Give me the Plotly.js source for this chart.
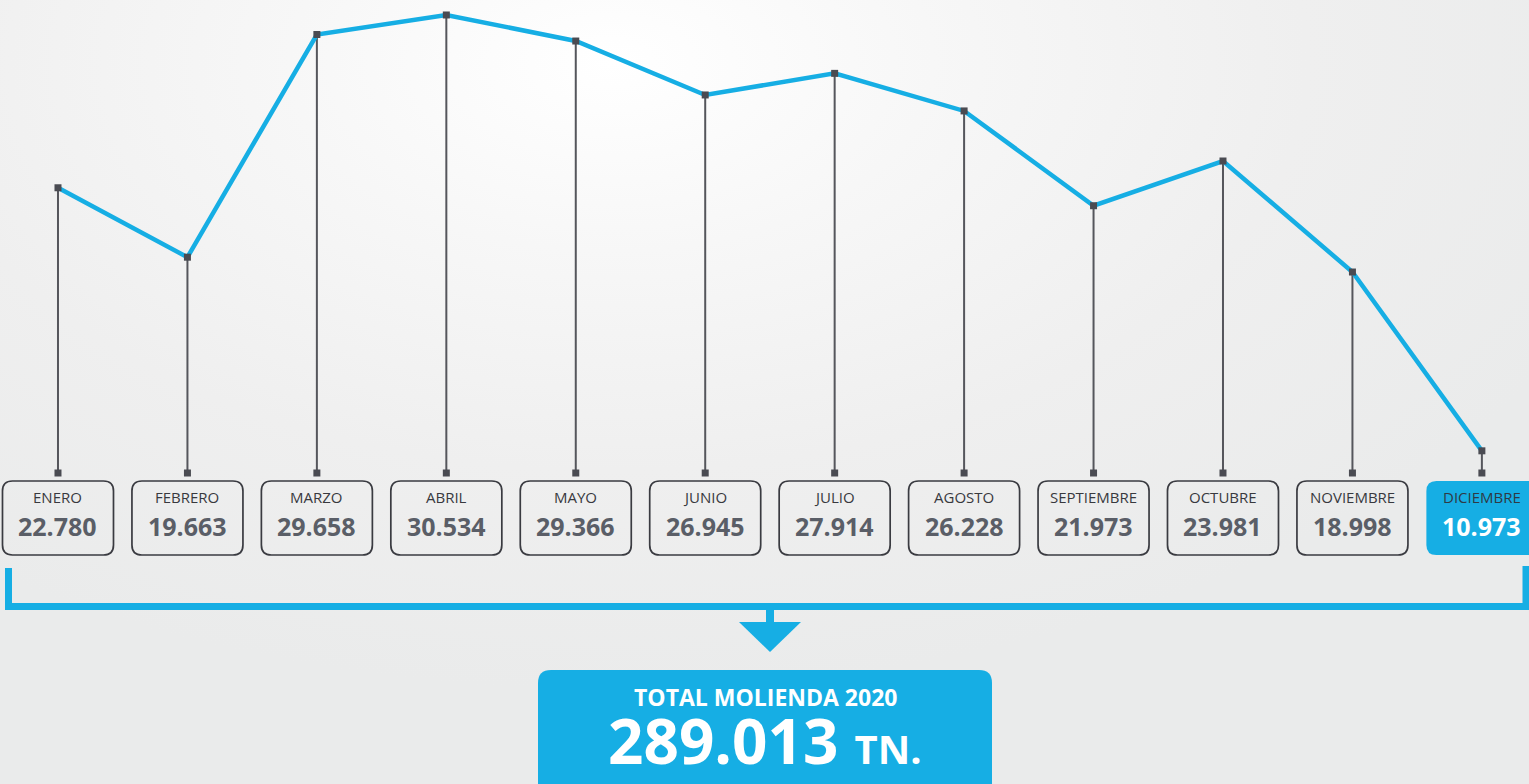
<!DOCTYPE html>
<html>
<head>
<meta charset="utf-8">
<script src="https://cdn.plot.ly/plotly-3.0.1.min.js"></script>
<style>
  html, body { margin:0; padding:0; width:1529px; height:784px; overflow:hidden; }
  body { background: radial-gradient(ellipse 70% 80% at 40% 8%, #ffffff 0%, #f7f7f7 30%, #efefef 65%, #eaebeb 100%); }
  #chart { width:1529px; height:784px; }
</style>
</head>
<body>
<div id="chart"></div>
<script>
// ---- data ----
const months = ['ENERO','FEBRERO','MARZO','ABRIL','MAYO','JUNIO','JULIO','AGOSTO','SEPTIEMBRE','OCTUBRE','NOVIEMBRE','DICIEMBRE'];
const values = [22780, 19663, 29658, 30534, 29366, 26945, 27914, 26228, 21973, 23981, 18998, 10973];
const totalLabel = 'TOTAL MOLIENDA 2020';
const unitLabel = 'TN.';
const highlightIndex = 11;

// ---- helpers ----
const W = 1529, H = 784;
const BLUE = '#16aee4';
const DARK = '#4a4b52';
function fmt(n){ return String(n).replace(/\B(?=(\d{3})+(?!\d))/g, '.'); }
const xs = months.map((_, i) => i);
const total = values.reduce((a, b) => a + b, 0);

// pixel -> paper
const px = p => p / W;
const py = p => 1 - p / H;

const yRange = [-3981, 31207];
const xRange = [-0.448, 11.364];
const xPerPx = (xRange[1] - xRange[0]) / W;
const yPerPx = (yRange[1] - yRange[0]) / H;
const baseVal = yRange[1] - 473 * yPerPx;   // stem bottom level

// stems
const stemX = [], stemY = [];
xs.forEach((x, i) => { stemX.push(x, x, null); stemY.push(values[i], baseVal, null); });

const traces = [
  { x: stemX, y: stemY, mode: 'lines', line: { color: '#55565c', width: 2 }, hoverinfo: 'skip' },
  { x: xs, y: xs.map(() => baseVal), mode: 'markers', marker: { symbol: 'square', size: 7, color: DARK }, hoverinfo: 'skip' },
  { x: xs, y: values, mode: 'lines+markers', line: { color: BLUE, width: 4.5 },
    marker: { symbol: 'square', size: 7, color: DARK } }
];

// rounded rect in x-data / paper-y
function rrect(xc, halfW, top, bottom, r) {
  const x0 = xc - halfW, x1 = xc + halfW;
  const rx = r * xPerPx, ry = r / H;
  const yT = py(top), yB = py(bottom);
  return `M ${x0 + rx},${yT} L ${x1 - rx},${yT} Q ${x1},${yT} ${x1},${yT - ry} L ${x1},${yB + ry} Q ${x1},${yB} ${x1 - rx},${yB} L ${x0 + rx},${yB} Q ${x0},${yB} ${x0},${yB + ry} L ${x0},${yT - ry} Q ${x0},${yT} ${x0 + rx},${yT} Z`;
}
function rrectPx(x0p, x1p, top, bottom, r) {
  const x0 = px(x0p), x1 = px(x1p), rx = r / W, ry = r / H;
  const yT = py(top), yB = py(bottom);
  return `M ${x0 + rx},${yT} L ${x1 - rx},${yT} Q ${x1},${yT} ${x1},${yT - ry} L ${x1},${yB + ry} Q ${x1},${yB} ${x1 - rx},${yB} L ${x0 + rx},${yB} Q ${x0},${yB} ${x0},${yB + ry} L ${x0},${yT - ry} Q ${x0},${yT} ${x0 + rx},${yT} Z`;
}

const shapes = [];
const annotations = [];
const halfW = 55.5 * xPerPx;
xs.forEach((x, i) => {
  const hl = i === highlightIndex;
  shapes.push({
    type: 'path', xref: 'x', yref: 'paper', layer: 'below',
    path: rrect(x, halfW, 481, 555, 10),
    fillcolor: hl ? BLUE : 'rgba(0,0,0,0)',
    line: { color: hl ? BLUE : '#3a3b41', width: hl ? 0 : 1.7 }
  });
  annotations.push({
    x: x, y: py(497), xref: 'x', yref: 'paper', text: months[i], showarrow: false,
    xanchor: 'center', yanchor: 'middle',
    font: { family: 'Open Sans, sans-serif', size: 15, color: hl ? '#2f3a45' : '#38393e' }
  });
  annotations.push({
    x: x, y: py(526), xref: 'x', yref: 'paper', text: '<b>' + fmt(values[i]) + '</b>', showarrow: false,
    xanchor: 'center', yanchor: 'middle',
    font: { family: 'Open Sans, sans-serif', size: 25, color: hl ? '#ffffff' : '#5a5e67' }
  });
});

// bracket
shapes.push({
  type: 'path', xref: 'paper', yref: 'paper',
  path: `M ${px(8.5)},${py(568)} L ${px(8.5)},${py(606.5)} L ${px(1526)},${py(606.5)} L ${px(1526)},${py(566)}`,
  line: { color: BLUE, width: 7 }, fillcolor: 'rgba(0,0,0,0)'
});
// arrow stem
shapes.push({
  type: 'line', xref: 'paper', yref: 'paper',
  x0: px(770), x1: px(770), y0: py(606), y1: py(626),
  line: { color: BLUE, width: 8 }
});
// arrow head
shapes.push({
  type: 'path', xref: 'paper', yref: 'paper',
  path: `M ${px(739)},${py(622)} L ${px(801)},${py(622)} L ${px(770)},${py(652)} Z`,
  fillcolor: BLUE, line: { width: 0 }
});
// total box
shapes.push({
  type: 'path', xref: 'paper', yref: 'paper',
  path: rrectPx(538, 992, 670, 800, 13),
  fillcolor: BLUE, line: { width: 0 }
});
annotations.push({
  x: px(765), y: py(697), xref: 'paper', yref: 'paper', showarrow: false,
  text: '<b>' + totalLabel + '</b>', xanchor: 'center', yanchor: 'middle',
  font: { family: 'Open Sans, sans-serif', size: 23, color: '#ffffff' }
});
annotations.push({
  x: px(765), y: py(784), xref: 'paper', yref: 'paper', showarrow: false,
  text: '<b>' + fmt(total) + '</b> <b><span style="font-size:40px">' + unitLabel + '</span></b>',
  xanchor: 'center', yanchor: 'bottom',
  font: { family: 'Open Sans, sans-serif', size: 62, color: '#ffffff' }
});

const layout = {
  width: W, height: H,
  margin: { l: 0, r: 0, t: 0, b: 0 },
  paper_bgcolor: 'rgba(0,0,0,0)', plot_bgcolor: 'rgba(0,0,0,0)',
  showlegend: false,
  xaxis: { range: xRange, visible: false, fixedrange: true },
  yaxis: { range: yRange, visible: false, fixedrange: true },
  shapes: shapes,
  annotations: annotations
};
Plotly.newPlot('chart', traces, layout, { displayModeBar: false, staticPlot: true });
</script>
</body>
</html>
